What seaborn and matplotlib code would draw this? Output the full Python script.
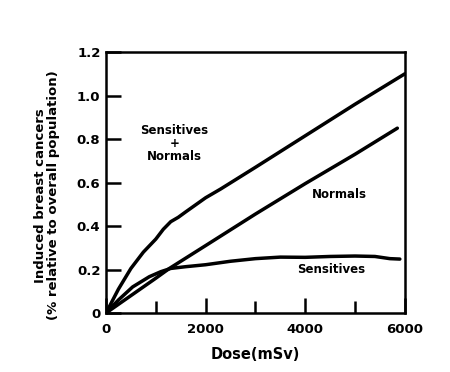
import numpy as np
import pandas as pd
import seaborn as sns
import matplotlib
matplotlib.use("Agg")
import matplotlib.pyplot as plt

# values
dose_sn = [0, 250, 500, 750, 1000, 1150, 1300, 1450, 1600, 2000, 2300, 3000, 4000, 5000, 6000]
sens_norm = [0, 0.11, 0.205, 0.28, 0.34, 0.385, 0.42, 0.44, 0.465, 0.53, 0.57, 0.67, 0.815, 0.96, 1.10]

dose_n = [0, 1000, 1273, 2000, 3000, 4000, 5000, 5850]
normals = [0, 0.16, 0.205, 0.31, 0.455, 0.595, 0.73, 0.85]

dose_s = [0, 250, 535, 870, 1100, 1300, 1600, 2000, 2500, 3000, 3500, 4000, 4500, 5000, 5400, 5700, 5900]
sensitives = [0, 0.06, 0.12, 0.167, 0.19, 0.205, 0.213, 0.222, 0.238, 0.25, 0.257, 0.256, 0.26, 0.262, 0.26, 0.25, 0.248]

yticks = [0, 0.2, 0.4, 0.6, 0.8, 1.0, 1.2]
ytick_labels = ["0", "0.2", "0.4", "0.6", "0.8", "1.0", "1.2"]
xticks_major = [0, 2000, 4000, 6000]
xticks_minor = [1000, 3000, 5000]

sns.set_style("ticks")
plt.rcParams['font.family'] = ['DejaVu Sans']
plt.rcParams['font.weight'] = 'bold'
plt.rcParams['text.color'] = 'black'
plt.rcParams['axes.labelcolor'] = 'black'
plt.rcParams['xtick.color'] = 'black'
plt.rcParams['ytick.color'] = 'black'

fig = plt.figure(figsize=(4.5, 3.72), dpi=100)
ax = fig.add_axes([0.2356, 0.1586, 0.664, 0.7014])

lw = 2.5
sns.lineplot(x=dose_sn, y=sens_norm, ax=ax, color="black", linewidth=lw)
sns.lineplot(x=dose_n, y=normals, ax=ax, color="black", linewidth=lw)
sns.lineplot(x=dose_s, y=sensitives, ax=ax, color="black", linewidth=lw)

ax.set_xlim(0, 6000)
ax.set_ylim(0, 1.2)

ax.set_yticks(yticks)
ax.set_yticklabels(ytick_labels)
ax.set_xticks(xticks_major)
ax.set_xticklabels([str(v) for v in xticks_major])
ax.set_xticks(xticks_minor, minor=True)

ax.tick_params(axis="y", direction="in", length=11, width=1.8, pad=4, labelsize=9.5)
ax.tick_params(axis="x", which="major", direction="in", length=11, width=1.8, pad=7, labelsize=9.5)
ax.tick_params(axis="x", which="minor", direction="in", length=9, width=1.8)
for lab in ax.get_xticklabels() + ax.get_yticklabels():
    lab.set_fontweight("bold")

for s in ax.spines.values():
    s.set_visible(True)
    s.set_linewidth(1.8)
    s.set_color("black")

ax.set_xlabel("Dose(mSv)", fontsize=10.5, fontweight="bold", labelpad=8)
ax.set_ylabel("Induced breast cancers\n(% relative to overall population)",
              fontsize=9.5, fontweight="bold", linespacing=1.0)
ax.yaxis.set_label_coords(-0.155, 0.45)

ax.text(1370, 0.78, "Sensitives\n+\nNormals", ha="center", va="center",
        fontsize=8.5, fontweight="bold", linespacing=1.0)
ax.text(4690, 0.547, "Normals", ha="center", va="center", fontsize=8.5, fontweight="bold")
ax.text(4530, 0.202, "Sensitives", ha="center", va="center", fontsize=8.5, fontweight="bold")

fig.savefig("out.png", dpi=100)
